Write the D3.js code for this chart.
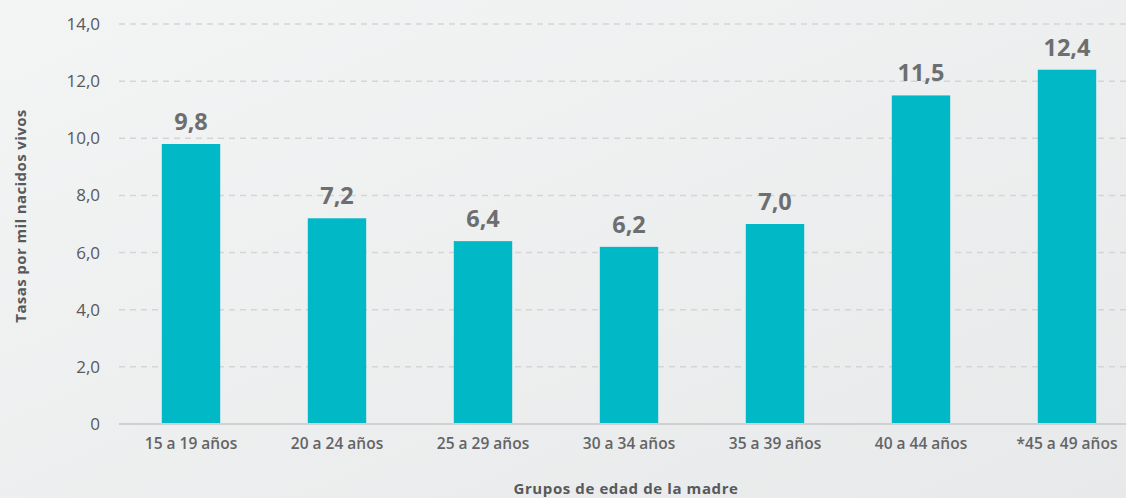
<meta charset="utf-8">
<style>
	body { margin: 0; }
	svg { display: block; font-family: "Open Sans", "Noto Sans", sans-serif; }
</style>
<svg width="1126" height="498" class="graph"></svg>
<script src="https://cdn.jsdelivr.net/npm/d3@7"></script>
<script>
	var categorias = ["15 a 19 años", "20 a 24 años", "25 a 29 años", "30 a 34 años", "35 a 39 años", "40 a 44 años", "*45 a 49 años"];
	var tasas = [9.8, 7.2, 6.4, 6.2, 7.0, 11.5, 12.4];
	var yTicks = [0, 2, 4, 6, 8, 10, 12, 14];

	var data = categorias.map(function(c, i) { return {cat: c, val: tasas[i]}; });
	var fmt = function(v) { return v === 0 ? "0" : d3.format(".1f")(v).replace(".", ","); };

	var svg = d3.select("svg"),
		width = +svg.attr("width"),
		height = +svg.attr("height");

	// fondo gris con degradado suave
	var grad = svg.append("defs").append("linearGradient")
		.attr("id", "bg").attr("x1", 0).attr("y1", 0).attr("x2", 1).attr("y2", 1);
	grad.append("stop").attr("offset", "0%").attr("stop-color", "#f3f4f4");
	grad.append("stop").attr("offset", "100%").attr("stop-color", "#e8e9ea");
	svg.append("rect").attr("width", width).attr("height", height).attr("fill", "url(#bg)");

	var x = d3.scaleBand().domain(categorias).range([118, 1140]).paddingInner(0.6).paddingOuter(0.3),
		y = d3.scaleLinear().domain([0, 14]).range([424, 24]);

	// lineas de cuadricula
	svg.append("g").selectAll("line")
		.data(yTicks.filter(function(t) { return t > 0; }))
		.enter().append("line")
		.attr("x1", 119).attr("x2", width)
		.attr("y1", function(d) { return y(d); }).attr("y2", function(d) { return y(d); })
		.attr("stroke", "#d4d5d6").attr("stroke-width", 1.5).attr("stroke-dasharray", "6,5");

	var yAxis = d3.axisLeft(y).tickValues(yTicks).tickFormat(fmt).tickSize(0).tickPadding(0);
	svg.append("g")
		.attr("transform", "translate(100,0)")
		.call(yAxis)
		.call(function(g) { g.select(".domain").remove(); })
		.selectAll("text")
		.attr("font-size", 17).attr("fill", "#58595b").attr("font-family", "\"Open Sans\", sans-serif");

	svg.append("g").selectAll("rect")
		.data(data)
		.enter().append("rect")
		.attr("x", function(d) { return x(d.cat); })
		.attr("width", x.bandwidth())
		.attr("y", function(d) { return y(d.val); })
		.attr("height", function(d) { return y(0) - y(d.val); })
		.attr("fill", "#00b8c6");

	svg.append("line")
		.attr("x1", 119).attr("x2", width)
		.attr("y1", y(0)).attr("y2", y(0))
		.attr("stroke", "#cfd0d1").attr("stroke-width", 2);

	svg.append("g").selectAll("text")
		.data(data)
		.enter().append("text")
		.attr("x", function(d) { return x(d.cat) + x.bandwidth() / 2; })
		.attr("y", function(d) { return y(d.val) - 14; })
		.attr("text-anchor", "middle")
		.attr("font-size", 23.5).attr("font-weight", "bold").attr("fill", "#6d6e70")
		.text(function(d) { return fmt(d.val); });

	var xAxis = d3.axisBottom(x).tickSize(0).tickPadding(0);
	svg.append("g")
		.attr("transform", "translate(0,438)")
		.call(xAxis)
		.call(function(g) { g.select(".domain").remove(); })
		.selectAll("text")
		.attr("font-size", 15.5).attr("font-weight", 600).attr("fill", "#636466").attr("font-family", "\"Open Sans\", sans-serif");

	svg.append("text")
		.attr("x", 626).attr("y", 494)
		.attr("text-anchor", "middle")
		.attr("font-size", 15).attr("font-weight", "bold").attr("fill", "#58595b")
		.attr("letter-spacing", 0.6)
		.text("Grupos de edad de la madre");

	svg.append("text")
		.attr("transform", "translate(26,216) rotate(-90)")
		.attr("text-anchor", "middle")
		.attr("font-size", 15).attr("font-weight", "bold").attr("fill", "#58595b")
		.attr("letter-spacing", 0.4)
		.text("Tasas por mil nacidos vivos");
</script>
